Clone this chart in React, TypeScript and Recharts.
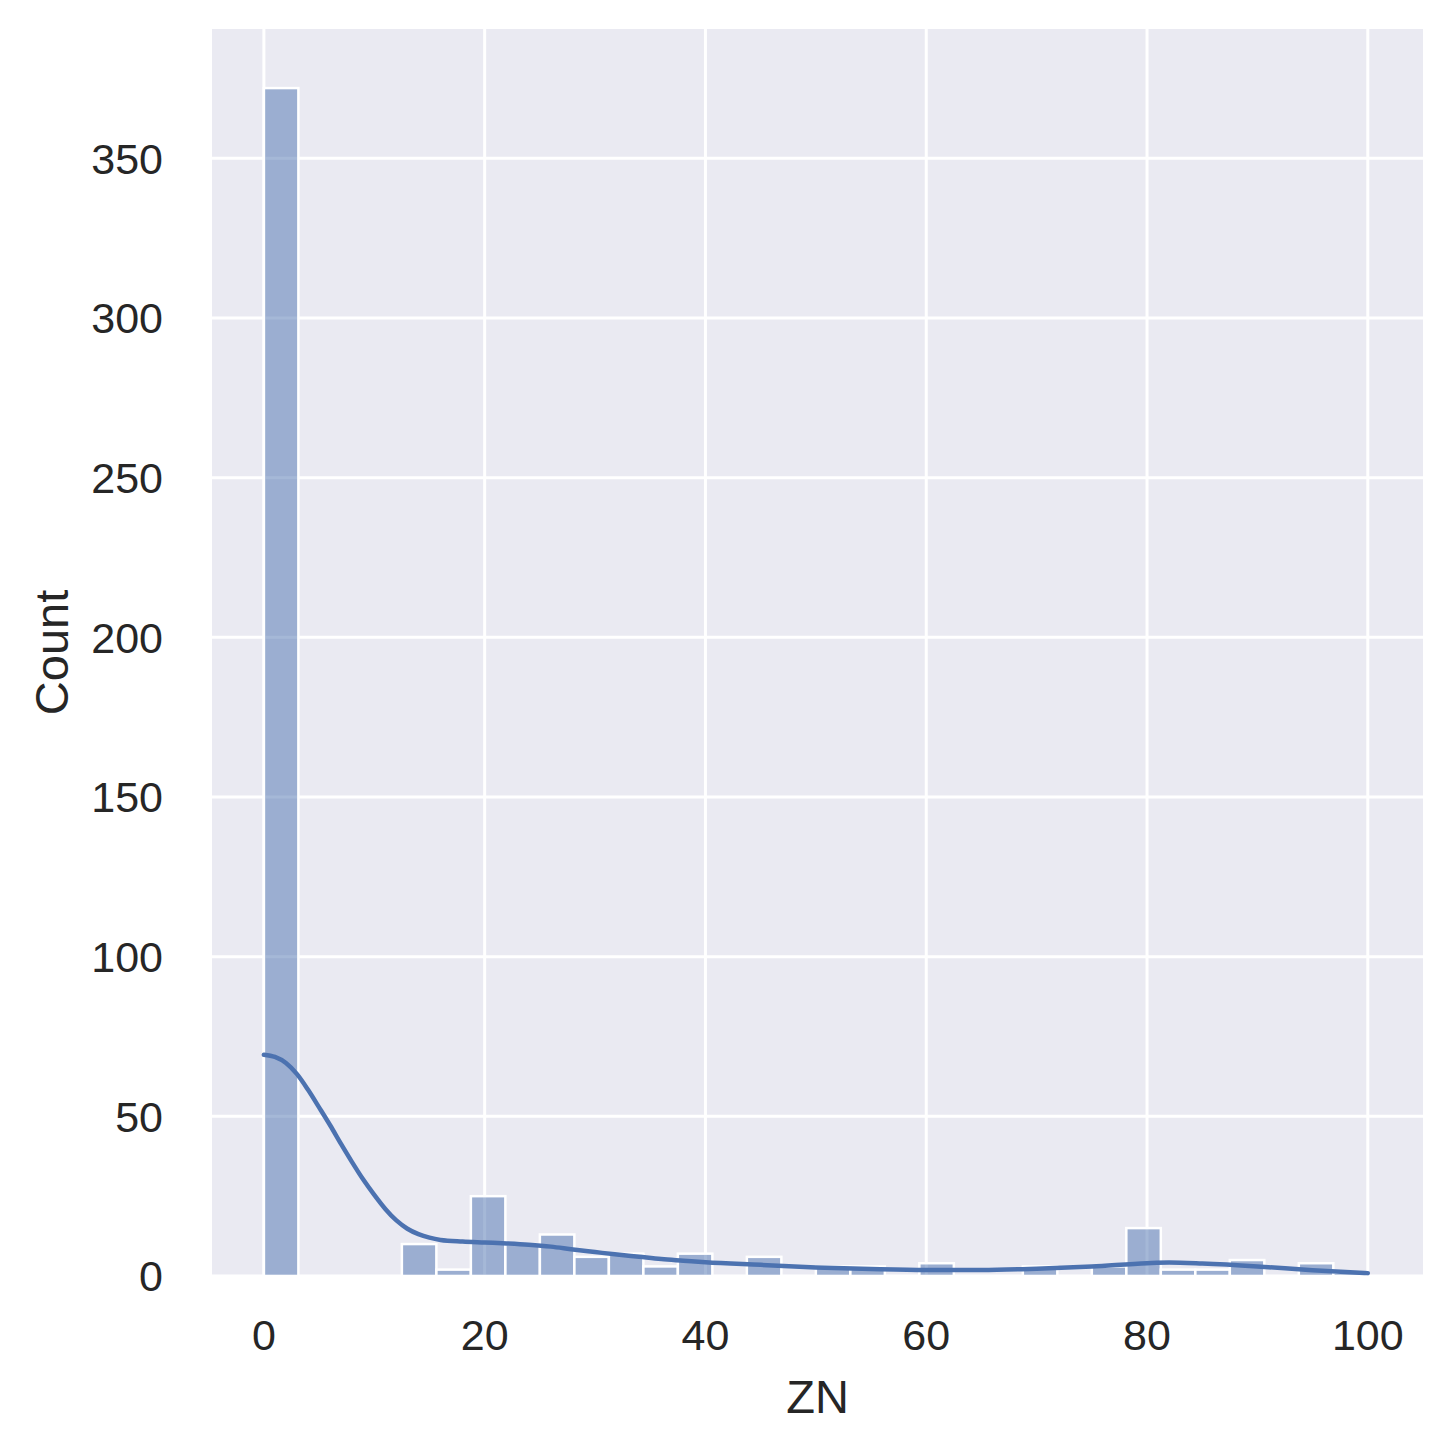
import { ComposedChart, Bar, Line, XAxis, YAxis, CartesianGrid } from 'recharts';

// histogram of ZN, 32 bins from 0 to 100
const BIN_START = 0;
const BIN_WIDTH = 3.125;
const BIN_COUNTS = [
  372, 0, 0, 0, 10, 2, 25, 10, 13, 6, 7, 3, 7, 0, 6, 0,
  3, 3, 0, 4, 0, 0, 3, 0, 3, 15, 2, 2, 5, 0, 4, 1,
];

// kde curve (scaled to counts)
const KDE_X = [
  0, 1, 2, 3, 4, 5, 6, 7, 8, 9, 10, 11, 12, 13, 14, 15, 16, 18, 20, 22, 24, 26, 28, 30,
  32, 34, 36, 38, 40, 45, 50, 55, 60, 65, 70, 75, 80, 82, 85, 90, 95, 100,
];
const KDE_Y = [
  69.3, 68.6, 66.7, 63.2, 58.3, 52.8, 47.2, 41.3, 35.6, 30.2, 25.4, 21.0, 17.4, 14.8, 13.1, 12.0,
  11.3, 10.8, 10.5, 10.2, 9.8, 9.2, 8.3, 7.5, 6.7, 6.0, 5.3, 4.8, 4.3, 3.5, 2.7, 2.2, 1.9, 1.9,
  2.3, 3.0, 4.0, 4.2, 3.9, 3.0, 1.8, 0.9,
];

const X_TICKS = [0, 20, 40, 60, 80, 100];
const Y_TICKS = [0, 50, 100, 150, 200, 250, 300, 350];

const X_MIN = -4.7;
const X_MAX = 105;
const Y_MAX = 390.5;

const CHART_W = 1437;
const CHART_H = 1437;
const MARGIN = { top: 21, right: 22, bottom: 0, left: 0 };
const Y_AXIS_W = 204;
const X_AXIS_H = 169;
const PLOT_W = CHART_W - MARGIN.left - MARGIN.right - Y_AXIS_W;
const BAR_PX = (PLOT_W / (X_MAX - X_MIN)) * BIN_WIDTH;

const bins = BIN_COUNTS.map((count, i) => ({
  x: BIN_START + i * BIN_WIDTH + BIN_WIDTH / 2,
  count,
}));
const kde = KDE_X.map((x, i) => ({ x, density: KDE_Y[i] }));

const FONT = '"Liberation Sans", Arial, sans-serif';
const TEXT = '#262626';
const BLUE = '#4c72b0';

// recharts squeezes the bar on a number axis, so widen it round its centre
const HistBar = (props: any) => {
  const { x, y, width, height } = props;
  if (height == null || height < 0) return null;
  const cx = x + width / 2;
  return (
    <rect
      x={cx - BAR_PX / 2}
      y={y}
      width={BAR_PX}
      height={height}
      fill={BLUE}
      fillOpacity={0.5}
      stroke="#ffffff"
      strokeWidth={2.5}
    />
  );
};

const XLabel = (props: any) => {
  const vb = props.viewBox;
  return (
    <text
      x={vb.x + vb.width / 2}
      y={vb.y + 137}
      textAnchor="middle"
      fontSize={47}
      fontFamily={FONT}
      fill={TEXT}
    >
      ZN
    </text>
  );
};

const YLabel = (props: any) => {
  const vb = props.viewBox;
  const cx = 60;
  const cy = vb.y + vb.height / 2;
  return (
    <text
      x={cx}
      y={cy}
      transform={`rotate(-90 ${cx} ${cy})`}
      textAnchor="middle"
      fontSize={47}
      fontFamily={FONT}
      fill={TEXT}
    >
      Count
    </text>
  );
};

export default function App() {
  return (
    <div style={{ width: CHART_W, height: CHART_H, background: '#fff' }}>
      <ComposedChart width={CHART_W} height={CHART_H} data={bins} margin={MARGIN}>
        <CartesianGrid
          fill="#eaeaf2"
          stroke="#ffffff"
          strokeWidth={3}
          verticalValues={X_TICKS}
          horizontalValues={Y_TICKS}
        />
        <XAxis
          dataKey="x"
          type="number"
          domain={[X_MIN, X_MAX]}
          ticks={X_TICKS}
          allowDataOverflow
          axisLine={false}
          tickLine={false}
          tickSize={0}
          tickMargin={43}
          height={X_AXIS_H}
          tick={{ fill: TEXT, fontSize: 43, fontFamily: FONT }}
          label={<XLabel />}
        />
        <YAxis
          type="number"
          domain={[0, Y_MAX]}
          ticks={Y_TICKS}
          allowDataOverflow
          axisLine={false}
          tickLine={false}
          tickSize={0}
          tickMargin={49}
          width={Y_AXIS_W}
          tick={{ fill: TEXT, fontSize: 43, fontFamily: FONT }}
          label={<YLabel />}
        />
        <Bar
          dataKey="count"
          fill={BLUE}
          shape={<HistBar />}
          isAnimationActive={false}
        />
        <Line
          data={kde}
          dataKey="density"
          type="monotone"
          stroke={BLUE}
          strokeWidth={4.5}
          strokeLinecap="round"
          dot={false}
          activeDot={false}
          isAnimationActive={false}
        />
      </ComposedChart>
    </div>
  );
}
